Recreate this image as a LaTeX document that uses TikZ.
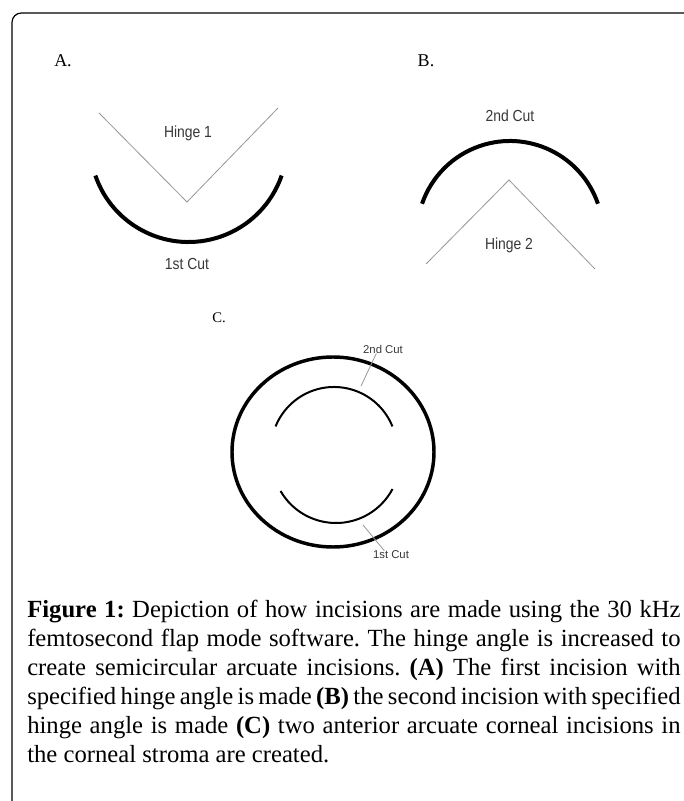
\documentclass[tikz,border=0pt]{standalone}
\usepackage{fontspec}
\setmainfont{Liberation Serif}
\newfontfamily\narrowsans[FakeStretch=0.87]{Liberation Sans}
\newfontfamily\plainsans{Liberation Sans}
\usetikzlibrary{positioning}
\definecolor{hingeGray}{RGB}{150,150,150}
\definecolor{labelGray}{RGB}{55,55,55}

\tikzset{
  panellabel/.style={font=\fontsize{13.5pt}{16pt}\selectfont, inner sep=0pt},
  cutlabel/.style={font=\narrowsans\fontsize{12pt}{14pt}\selectfont, labelGray, inner sep=0pt},
  smalllabel/.style={font=\plainsans\fontsize{8.5pt}{10pt}\selectfont, labelGray, inner sep=0pt},
  hingeline/.style={hingeGray, line width=0.6pt},
  cutline/.style={line width=3pt},
}

\begin{document}
\frenchspacing
\begin{tikzpicture}[x=0.75pt, y=0.75pt]
  \useasboundingbox (0,0) rectangle (683,801);
  % frame
  \draw[line width=0.9pt, rounded corners=7pt] (12,-10) -- (12,788) -- (700,788);

  % panel A: first cut
  \node[panellabel] (labA) at (63,740) {A.};
  \draw[hingeline] (99,688) -- (187,599) -- (278,693);
  \node[cutlabel] (hinge1) at (188,668) {Hinge 1};
  \draw[cutline] (188.5,657.5) ++(199:98.5) arc[start angle=199, end angle=341, radius=98.5];
  \node[cutlabel] (cut1) at (187,537) {1st Cut};

  % panel B: second cut
  \node[panellabel] (labB) at (426,740) {B.};
  \node[cutlabel] (cut2) at (510,685) {2nd Cut};
  \draw[cutline] (510,567) ++(19:93) arc[start angle=19, end angle=161, radius=93];
  \draw[hingeline] (426,537) -- (509,621) -- (595,532);
  \node[cutlabel] (hinge2) at (509,556) {Hinge 2};

  % panel C: both arcuate incisions
  \node[panellabel, font=\fontsize{11pt}{13pt}\selectfont] (labC) at (219,483) {C.};
  \draw[line width=2.6pt] (333,349) ellipse[x radius=101, y radius=95];
  \draw[line width=1.5pt] (334,351) ++(22:63) arc[start angle=22, end angle=158, radius=63];
  \draw[line width=1.5pt] (336,342) ++(210:64) arc[start angle=210, end angle=332, radius=64];
  \node[smalllabel] (cutC2) at (383,452) {2nd Cut};
  \node[smalllabel] (cutC1) at (391,246) {1st Cut};
  \coordinate (tipC2) at (361,415);
  \coordinate (tipC1) at (363,276);
  \draw[hingeline] ([xshift=-5pt]cutC2.south) -- (tipC2);
  \draw[hingeline] ([xshift=-5pt]cutC1.north) -- (tipC1);

  % caption
  \node[anchor=north west, inner sep=0pt, text width=490pt, align=justify,
        font=\fontsize{18.5pt}{21.75pt}\selectfont] (caption) at (27,201)
    {\textbf{Figure 1:} Depiction of how incisions are made using the 30 kHz\linebreak
     femtosecond flap mode software. The hinge angle is increased to\linebreak
     create semicircular arcuate incisions. \textbf{(A)} The first incision with\linebreak
     specified hinge angle is made \textbf{(B)} the second incision with specified\linebreak
     hinge angle is made \textbf{(C)} two anterior arcuate corneal incisions in\linebreak
     the corneal stroma are created.};
\end{tikzpicture}
\end{document}
